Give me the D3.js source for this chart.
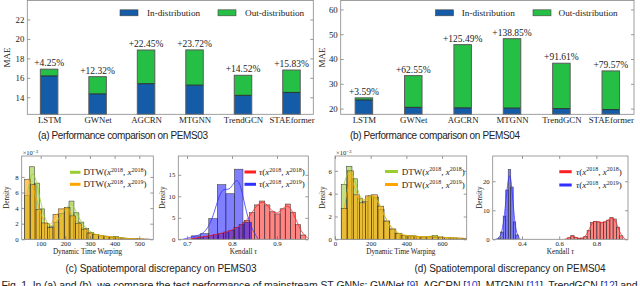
<!DOCTYPE html>
<html>
<head>
<meta charset="utf-8">
<script src="https://cdn.jsdelivr.net/npm/d3@7"></script>
<style>
  body { margin: 0; background: #fff; }
  svg { display: block; }
</style>
</head>
<body>
<script>
// ---- data ----
const models = ["LSTM", "GWNet", "AGCRN", "MTGNN", "TrendGCN", "STAEformer"];

const pems03In  = [16.2, 14.35, 15.4, 15.25, 14.2, 14.5];
const pems03Out = [16.89, 16.12, 18.86, 18.87, 16.26, 16.8];
const pems03Pct = ["+4.25%", "+12.32%", "+22.45%", "+23.72%", "+14.52%", "+15.83%"];
const pems03Ticks = [14, 16, 18, 20, 22];

const pems04In  = [23.5, 20.5, 20.3, 20.2, 20.0, 19.6];
const pems04Out = [24.34, 33.3, 45.8, 48.2, 38.3, 35.2];
const pems04Pct = ["+3.59%", "+62.55%", "+125.49%", "+138.85%", "+91.61%", "+79.57%"];
const pems04Ticks = [20, 30, 40, 50, 60];

// histograms: bin start, bin width, densities
const dtw03Same  = { start: 35, width: 20, vals: [5.6, 9.3, 7.2, 3.9, 2.0, 1.6, 2.2, 3.3, 4.0, 4.9, 3.4, 2.2, 1.4, 0.9, 0.6, 0.5, 0.4, 0.3, 0.35, 0.2, 0.1, 0.08, 0.05] };
const dtw03Cross = { start: 35, width: 23, vals: [7.7, 7.0, 3.8, 2.1, 1.5, 3.2, 3.9, 4.1, 3.0, 2.0, 1.3, 0.8, 0.6, 0.45, 0.35, 0.3, 0.2, 0.15, 0.1, 0.08, 0.05, 0.03] };
const tau03Same  = { start: 0.7132, width: 0.0114, vals: [0.3, 0.5, 0.7, 0.9, 1.1, 1.4, 1.7, 2.1, 2.7, 3.4, 4.4, 6.2, 8.0, 8.9, 8.0, 6.4, 5.9, 7.1, 8.2, 6.3, 3.4, 1.0] };
const tau03Cross = { start: 0.7104, width: 0.019, vals: [0.8, 1.3, 4.8, 12.7, 10.6, 16.3, 4.0] };

const dtw04Same  = { start: 35, width: 30, vals: [4.8, 6.4, 5.3, 3.6, 3.3, 3.8, 3.7, 2.6, 1.6, 0.9, 0.5, 0.35, 0.3, 0.3, 0.25, 0.2, 0.25, 0.35, 0.2, 0.15, 0.12, 0.1, 0.05] };
const dtw04Cross = { start: 35, width: 34, vals: [2.7, 6.0, 3.9, 3.2, 3.8, 3.9, 2.9, 1.6, 0.9, 0.5, 0.35, 0.3, 0.25, 0.22, 0.22, 0.2, 0.18, 0.15, 0.12, 0.1, 0.08] };
const tau04Same  = { start: 0.645, width: 0.0175, vals: [0.5, 1.3, 0.6, 0.3, 0.4, 1.0, 3.0, 5.8, 6.2, 6.0, 5.7, 6.0, 6.6, 7.5, 7.0, 4.2, 1.2] };
const tau04Cross = { start: 0.272, width: 0.0135, vals: [0.5, 2.5, 8, 17, 24, 18, 6, 1.5] };

const SERIF = "'Liberation Serif', 'Times New Roman', serif";
const SANS = "'Liberation Sans', Arial, sans-serif";
const BLUE = "#155ca8";
const GREEN = "#25bf45";

const svg = d3.select("body").append("svg")
  .attr("width", 640)
  .attr("height", 286)
  .style("background", "#fff");

function styleAxis(sel, fs) {
  sel.select(".domain").remove();
  sel.selectAll("line").attr("stroke", "#555").attr("stroke-width", 0.6);
  sel.selectAll("text").attr("font-family", SERIF).attr("font-size", fs).attr("fill", "#222");
}

function frame(g, box) {
  const [L, T, R, B] = box;
  g.append("rect")
    .attr("x", L).attr("y", T).attr("width", R - L).attr("height", B - T)
    .attr("fill", "none").attr("stroke", "#888").attr("stroke-width", 0.8);
}

// ---- stacked bar panels ----
function barPanel(box, pad, yDomain, yTicks, inVals, outVals, pct, legendPos, yLabelX) {
  const [L, T, R, B] = box;
  const g = svg.append("g");
  const x = d3.scalePoint().domain(models).range([L, R]).padding(pad);
  const y = d3.scaleLinear().domain(yDomain).range([B, T]);
  const bw = 17.5;

  g.selectAll("rect.in").data(models).join("rect")
    .attr("x", d => x(d) - bw / 2)
    .attr("y", (d, i) => y(inVals[i]))
    .attr("width", bw)
    .attr("height", (d, i) => B - y(inVals[i]))
    .attr("fill", BLUE);

  g.selectAll("rect.out").data(models).join("rect")
    .attr("x", d => x(d) - bw / 2)
    .attr("y", (d, i) => y(outVals[i]))
    .attr("width", bw)
    .attr("height", (d, i) => y(inVals[i]) - y(outVals[i]))
    .attr("fill", GREEN);

  // split line and outline
  g.selectAll("line.split").data(models).join("line")
    .attr("x1", d => x(d) - bw / 2).attr("x2", d => x(d) + bw / 2)
    .attr("y1", (d, i) => y(inVals[i])).attr("y2", (d, i) => y(inVals[i]))
    .attr("stroke", "#222").attr("stroke-width", 0.9);
  g.selectAll("rect.edge").data(models).join("rect")
    .attr("x", d => x(d) - bw / 2)
    .attr("y", (d, i) => y(outVals[i]))
    .attr("width", bw)
    .attr("height", (d, i) => B - y(outVals[i]))
    .attr("fill", "none").attr("stroke", "#5a5a5a").attr("stroke-width", 1);

  g.selectAll("text.pct").data(models).join("text")
    .attr("x", d => x(d))
    .attr("y", (d, i) => y(outVals[i]) - 3)
    .attr("text-anchor", "middle")
    .attr("font-family", SERIF).attr("font-size", 9.5).attr("fill", "#222")
    .text((d, i) => pct[i]);

  g.append("g").attr("transform", `translate(0,${B})`)
    .call(d3.axisBottom(x).tickSize(0).tickPadding(2.5))
    .call(s => styleAxis(s, 8.8));
  g.append("g").attr("transform", `translate(${L},0)`)
    .call(d3.axisLeft(y).tickValues(yTicks).tickSizeInner(-3).tickSizeOuter(0).tickPadding(3))
    .call(s => styleAxis(s, 8.8));
  g.append("g").attr("transform", `translate(${R},0)`)
    .call(d3.axisRight(y).tickValues(yTicks).tickSizeInner(-3).tickSizeOuter(0).tickFormat(""))
    .call(s => styleAxis(s, 8.8));
  frame(g, box);

  g.append("text")
    .attr("transform", `translate(${yLabelX},${(T + B) / 2}) rotate(-90)`)
    .attr("text-anchor", "middle")
    .attr("font-family", SERIF).attr("font-size", 9).attr("fill", "#222")
    .text("MAE");

  // legend
  const items = [["In-distribution", BLUE], ["Out-distribution", GREEN]];
  items.forEach(([name, col], i) => {
    const [sx, tx] = legendPos[i];
    g.append("rect").attr("x", sx).attr("y", 9.8).attr("width", 18).attr("height", 6)
      .attr("fill", col).attr("stroke", "#444").attr("stroke-width", 0.6);
    g.append("text").attr("x", tx).attr("y", 16)
      .attr("font-family", SERIF).attr("font-size", 9.2).attr("fill", "#222")
      .text(name);
  });
}

barPanel([27.3, 0.5, 313.3, 114.3], 0.45, [12.25, 23.95], pems03Ticks,
  pems03In, pems03Out, pems03Pct, [[120, 147], [218, 245]], 10);
barPanel([340.7, 0.5, 634, 114.3], 0.47, [17.7, 63.6], pems04Ticks,
  pems04In, pems04Out, pems04Pct, [[435.5, 461.7], [533, 558.5]], 325);

// ---- histogram panels ----
function legendLabel(g, x, y, head, italicHead, sup2) {
  const t = g.append("text").attr("x", x).attr("y", y)
    .attr("font-family", SERIF).attr("font-size", 9).attr("fill", "#222");
  t.append("tspan").attr("font-style", italicHead ? "italic" : null).text(head);
  t.append("tspan").text("(");
  t.append("tspan").attr("font-style", "italic").text("x");
  t.append("tspan").attr("font-size", 6).attr("dy", -3.5).text("2018");
  t.append("tspan").attr("dy", 3.5).text(", ");
  t.append("tspan").attr("font-style", "italic").text("x");
  t.append("tspan").attr("font-size", 6).attr("dy", -3.5).text(sup2);
  t.append("tspan").attr("dy", 3.5).text(")");
}

function histPanel(cfg) {
  const [L, T, R, B] = cfg.box;
  const g = svg.append("g");
  const x = d3.scaleLinear().domain(cfg.xDomain).range([L, R]);
  const y = d3.scaleLinear().domain(cfg.yDomain).range([B, T]);
  const clipId = "clip" + Math.round(L);
  g.append("clipPath").attr("id", clipId).append("rect")
    .attr("x", L).attr("y", T).attr("width", R - L).attr("height", B - T);
  const plot = g.append("g").attr("clip-path", `url(#${clipId})`);

  cfg.series.forEach(s => {
    const h = s.hist;
    plot.append("g").selectAll("rect").data(h.vals).join("rect")
      .attr("x", (d, i) => x(h.start + i * h.width))
      .attr("y", d => y(d))
      .attr("width", (d, i) => x(h.start + (i + 1) * h.width) - x(h.start + i * h.width))
      .attr("height", d => B - y(d))
      .attr("fill", s.color).attr("fill-opacity", s.alpha)
      .attr("stroke", "#2a2a2a").attr("stroke-opacity", 0.85).attr("stroke-width", 0.6);
  });
  cfg.series.forEach(s => {
    const h = s.hist;
    let pts = h.vals.map((v, i) => [h.start + (i + 0.5) * h.width, v]);
    if (s.tails) {
      pts = [[h.start - h.width, 0]].concat(pts, [[h.start + (h.vals.length + 0.8) * h.width, 0]]);
    }
    plot.append("path")
      .attr("d", d3.line().x(d => x(d[0])).y(d => y(d[1])).curve(d3.curveBasis)(pts))
      .attr("fill", "none").attr("stroke", s.line).attr("stroke-width", 0.9).attr("stroke-opacity", 0.85);
  });

  g.append("g").attr("transform", `translate(0,${B})`)
    .call(d3.axisBottom(x).tickValues(cfg.xTicks).tickSizeInner(-3).tickSizeOuter(0).tickPadding(1.4).tickFormat(cfg.xFmt))
    .call(s => styleAxis(s, 6.8));
  g.append("g").attr("transform", `translate(0,${T})`)
    .call(d3.axisTop(x).tickValues(cfg.xTicks).tickSizeInner(-3).tickSizeOuter(0).tickFormat(""))
    .call(s => styleAxis(s, 6.8));
  g.append("g").attr("transform", `translate(${L},0)`)
    .call(d3.axisLeft(y).tickValues(cfg.yTicks).tickSizeInner(-3).tickSizeOuter(0).tickPadding(3).tickFormat(d3.format("d")))
    .call(s => styleAxis(s, 6.8));
  g.append("g").attr("transform", `translate(${R},0)`)
    .call(d3.axisRight(y).tickValues(cfg.yTicks).tickSizeInner(-3).tickSizeOuter(0).tickFormat(""))
    .call(s => styleAxis(s, 6.8));
  frame(g, cfg.box);

  g.append("text")
    .attr("transform", `translate(${cfg.yLabelX},${(T + B) / 2}) rotate(-90)`)
    .attr("text-anchor", "middle")
    .attr("font-family", SERIF).attr("font-size", 7.2).attr("fill", "#222")
    .text("Density");

  const xl = g.append("text").attr("x", (L + R) / 2).attr("y", 254)
    .attr("text-anchor", "middle")
    .attr("font-family", SERIF).attr("font-size", 7.2).attr("fill", "#222");
  if (cfg.kendall) {
    xl.append("tspan").text("Kendall ");
    xl.append("tspan").attr("font-style", "italic").text("τ");
  } else {
    xl.text("Dynamic Time Warping");
  }

  if (cfg.scale) {
    const st = g.append("text").attr("x", L + 1).attr("y", T - 1)
      .attr("font-family", SERIF).attr("font-size", 6.5).attr("fill", "#222");
    st.append("tspan").text("×10");
    st.append("tspan").attr("font-size", 5).attr("dy", -2.5).text("−3");
  }

  cfg.series.forEach((s, i) => {
    const ly = cfg.legend.y[i];
    g.append("line")
      .attr("x1", cfg.legend.x0).attr("x2", cfg.legend.x1)
      .attr("y1", ly).attr("y2", ly)
      .attr("stroke", s.line).attr("stroke-width", 3);
    legendLabel(g, cfg.legend.tx, ly + 3, cfg.kendall ? "τ" : "DTW", cfg.kendall, s.sup);
  });
}

const fmt1 = d3.format(".1f");

histPanel({
  box: [21.7, 156, 153.3, 239.3], xDomain: [23, 557], yDomain: [0, 10.68],
  xTicks: [100, 200, 300, 400, 500], yTicks: [0, 2, 4, 6, 8], xFmt: d3.format("d"),
  yLabelX: 9, scale: true,
  series: [
    { hist: dtw03Same, color: "#9acd32", line: "#9acd32", alpha: 0.6, sup: "2018" },
    { hist: dtw03Cross, color: "#ffa500", line: "#ffa500", alpha: 0.6, sup: "2019" }
  ],
  legend: { x0: 70, x1: 80.5, tx: 83.5, y: [172.3, 184.3] }
});

histPanel({
  box: [178.3, 156, 308.3, 239.3], xDomain: [0.6807, 0.9696], yDomain: [0, 19.37],
  xTicks: [0.7, 0.8, 0.9], yTicks: [0, 5, 10, 15], xFmt: fmt1,
  yLabelX: 165, kendall: true,
  series: [
    { hist: tau03Same, color: "#ff0000", line: "#ff2020", alpha: 0.48, sup: "2018", tails: true },
    { hist: tau03Cross, color: "#0000ff", line: "#3030ff", alpha: 0.5, sup: "2019", tails: true }
  ],
  legend: { x0: 244.5, x1: 256, tx: 259, y: [172, 184.3] }
});

histPanel({
  box: [335, 156, 466.7, 239.3], xDomain: [0, 738], yDomain: [0, 7.3],
  xTicks: [0, 200, 400, 600], yTicks: [0, 2, 4, 6], xFmt: d3.format("d"),
  yLabelX: 325, scale: true,
  series: [
    { hist: dtw04Same, color: "#9acd32", line: "#9acd32", alpha: 0.6, sup: "2018" },
    { hist: dtw04Cross, color: "#ffa500", line: "#ffa500", alpha: 0.6, sup: "2019" }
  ],
  legend: { x0: 385, x1: 398, tx: 401.7, y: [171.5, 184.5] }
});

histPanel({
  box: [492.7, 156, 628, 239.3], xDomain: [0.2425, 0.970], yDomain: [0, 28.7],
  xTicks: [0.4, 0.6, 0.8], yTicks: [0, 10, 20], xFmt: fmt1,
  yLabelX: 481.7, kendall: true,
  series: [
    { hist: tau04Same, color: "#ff0000", line: "#ff2020", alpha: 0.48, sup: "2018", tails: true },
    { hist: tau04Cross, color: "#0000ff", line: "#3030ff", alpha: 0.5, sup: "2019", tails: true }
  ],
  legend: { x0: 559.3, x1: 571.7, tx: 576, y: [171.7, 185] }
});

// ---- captions ----
const captions = [
  ["(a) Performance comparison on PEMS03", 123, 139, 170],
  ["(b) Performance comparison on PEMS04", 435, 139, 170],
  ["(c) Spatiotemporal discrepancy on PEMS03", 161, 272, 191],
  ["(d) Spatiotemporal discrepancy on PEMS04", 510, 272, 191]
];
svg.selectAll("text.cap").data(captions).join("text")
  .attr("x", d => d[1]).attr("y", d => d[2])
  .attr("text-anchor", "middle")
  .attr("font-family", SANS).attr("font-size", 10).attr("fill", "#222")
  .attr("textLength", d => d[3]).attr("lengthAdjust", "spacing")
  .text(d => d[0]);

const fig = svg.append("text").attr("x", 1.5).attr("y", 289)
  .attr("font-family", SANS).attr("font-size", 10.5).attr("fill", "#222")
  .attr("textLength", 636).attr("lengthAdjust", "spacing");
[["Fig. 1. In (a) and (b), we compare the test performance of mainstream ST-GNNs: GWNet [", null],
 ["9", "#1f3fd0"], ["], AGCRN [", null], ["10", "#1f3fd0"], ["], MTGNN [", null],
 ["11", "#1f3fd0"], ["], TrendGCN [", null], ["12", "#1f3fd0"], ["] and", null]]
  .forEach(([t, c]) => fig.append("tspan").attr("fill", c).text(t));
</script>
</body>
</html>
